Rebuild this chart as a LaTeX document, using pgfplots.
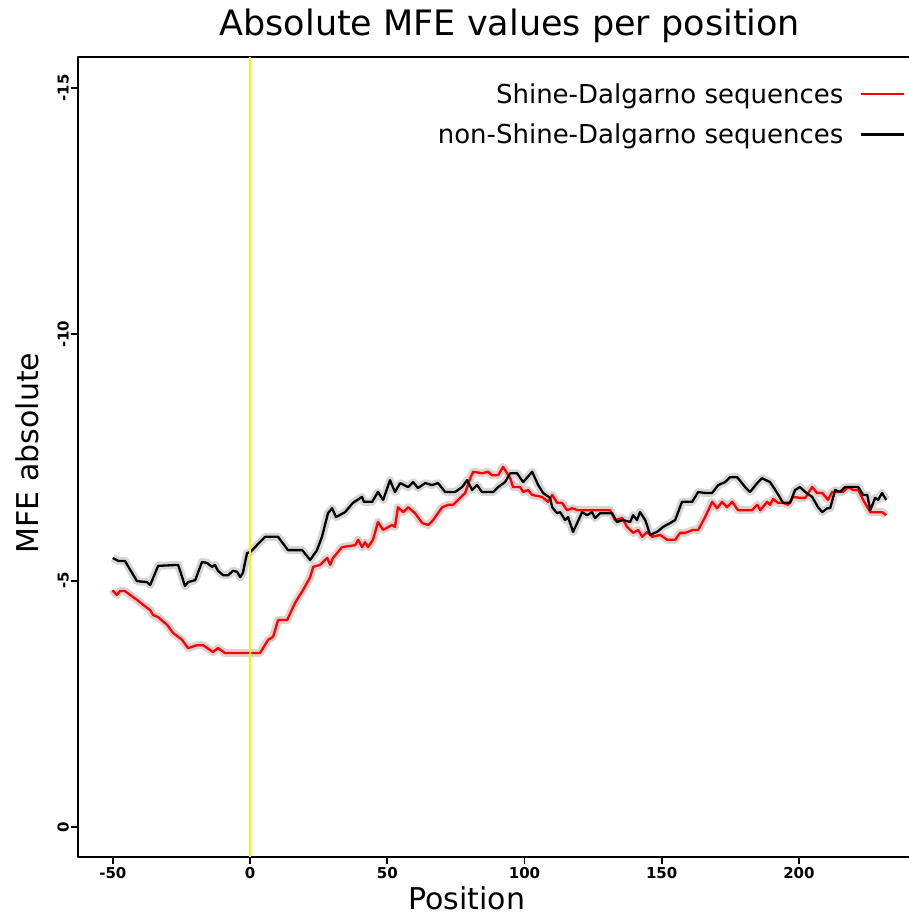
\documentclass[border=0pt]{standalone}
\usepackage{fontspec}
\setmainfont{DejaVu Sans}
\usepackage{pgfplots}
\pgfplotsset{compat=1.18}
\usepackage{pgfplotstable}

% mean MFE per position, Shine-Dalgarno sequences
\pgfplotstableread{
pos mfe
-50 -4.81
-49.9 -4.79
-48.5 -4.71
-47.4 -4.79
-45.6 -4.79
-43.7 -4.71
-41.2 -4.61
-39.0 -4.51
-36.4 -4.40
-35.3 -4.30
-33.5 -4.26
-30.2 -4.10
-28.1 -3.94
-24.8 -3.80
-22.6 -3.63
-19.3 -3.69
-17.1 -3.69
-13.5 -3.55
-11.7 -3.63
-9.1 -3.53
0 -3.53
3.6 -3.53
6.6 -3.80
8.4 -3.86
10.2 -4.20
13.5 -4.20
16.4 -4.55
19.3 -4.81
21.9 -5.07
23.0 -5.28
25.5 -5.32
28.1 -5.46
29.2 -5.32
30.2 -5.46
33.5 -5.68
38.3 -5.72
39.4 -5.83
40.8 -5.68
41.9 -5.78
43.0 -5.68
44.8 -5.83
46.6 -6.19
48.5 -6.03
51.7 -6.13
52.8 -6.09
53.9 -6.49
55.8 -6.39
57.6 -6.49
60.1 -6.37
62.7 -6.17
64.9 -6.13
66.7 -6.23
70.0 -6.49
72.2 -6.54
74.0 -6.54
75.8 -6.64
78.4 -6.78
80.2 -7.08
81.3 -7.21
84.5 -7.18
86.7 -7.21
88.2 -7.14
90.4 -7.14
92.2 -7.31
94.8 -7.08
95.8 -6.90
98.4 -6.90
99.5 -6.80
101.3 -6.84
102.8 -6.74
106.4 -6.70
108.6 -6.60
110.1 -6.74
111.9 -6.58
113.7 -6.58
115.5 -6.43
117.3 -6.47
119.5 -6.43
131.2 -6.43
133.0 -6.23
135.6 -6.27
137.4 -6.09
139.6 -5.97
141.4 -6.03
142.9 -5.89
144.7 -5.99
146.5 -5.89
149.4 -5.93
152.0 -5.83
154.9 -5.83
156.7 -5.97
158.5 -5.97
161.4 -6.03
163.3 -6.03
165.8 -6.29
168.4 -6.60
170.2 -6.47
172.0 -6.60
173.8 -6.49
175.7 -6.60
177.8 -6.43
182.9 -6.43
184.8 -6.54
185.9 -6.43
188.4 -6.60
189.5 -6.54
190.6 -6.66
192.4 -6.58
194.2 -6.58
196.1 -6.54
197.9 -6.70
200.4 -6.68
202.3 -6.68
204.8 -6.90
206.6 -6.78
208.5 -6.78
210.6 -6.64
212.1 -6.80
216.1 -6.80
217.9 -6.90
219.8 -6.84
221.6 -6.84
223.4 -6.64
226.0 -6.39
230.3 -6.39
231.8 -6.33
}\sdtable

% mean MFE per position, non-Shine-Dalgarno sequences
\pgfplotstableread{
pos mfe
-50 -5.46
-48 -5.40
-45.6 -5.40
-41.2 -4.99
-37.5 -4.97
-36.4 -4.91
-33.5 -5.30
-26.2 -5.32
-23.7 -4.89
-22.6 -4.97
-20.0 -5.01
-17.5 -5.38
-15.7 -5.36
-13.8 -5.28
-12.8 -5.32
-11.7 -5.20
-9.8 -5.11
-8.0 -5.11
-6.2 -5.20
-4.7 -5.18
-3.6 -5.07
-2.6 -5.16
-1.1 -5.56
0 -5.58
1.8 -5.68
5.5 -5.89
10.2 -5.89
13.8 -5.62
19.0 -5.62
21.9 -5.42
24.4 -5.62
26.2 -5.89
28.4 -6.37
29.9 -6.47
31.3 -6.29
34.6 -6.39
37.5 -6.58
40.8 -6.70
41.5 -6.60
44.5 -6.60
46.6 -6.80
48.5 -6.64
51.0 -7.04
52.8 -6.80
54.7 -6.98
57.6 -6.90
59.4 -7.00
61.2 -6.88
63.8 -6.98
66.3 -6.94
68.5 -6.98
71.1 -6.80
74.7 -6.80
77.3 -6.90
79.1 -7.04
80.9 -6.84
82.7 -6.94
84.5 -6.80
88.6 -6.80
90.4 -6.90
92.9 -7.00
94.8 -7.18
97.3 -7.18
99.5 -7.00
102.8 -7.21
105.0 -6.94
106.8 -6.78
109.3 -6.68
110.1 -6.49
111.9 -6.37
113.0 -6.39
114.8 -6.23
115.9 -6.29
117.7 -5.99
119.2 -6.17
121.0 -6.39
122.8 -6.33
124.6 -6.39
125.7 -6.27
127.6 -6.37
131.9 -6.37
133.7 -6.19
135.9 -6.23
138.5 -6.19
139.6 -6.33
141.0 -6.23
142.1 -6.39
144.0 -6.23
145.8 -5.93
148.3 -5.99
150.5 -6.09
153.1 -6.17
154.9 -6.23
157.4 -6.60
161.1 -6.60
163.3 -6.80
165.8 -6.78
168.4 -6.78
170.6 -6.94
173.1 -7.00
174.9 -7.10
177.5 -7.10
180.4 -6.90
182.2 -6.80
184.8 -6.98
186.6 -7.08
189.5 -7.00
192.1 -6.78
194.2 -6.58
196.8 -6.58
198.6 -6.84
200.4 -6.90
202.3 -6.80
204.8 -6.70
207.0 -6.49
208.5 -6.39
210.3 -6.47
211.4 -6.47
213.2 -6.84
215.0 -6.80
216.8 -6.90
221.6 -6.90
223.4 -6.74
224.9 -6.74
226.0 -6.43
227.8 -6.68
228.9 -6.64
230.3 -6.78
231.8 -6.64
}\nonsdtable

\definecolor{halo}{RGB}{214,214,214}
\definecolor{pinkhalo}{RGB}{245,200,200}

\begin{document}
\begin{tikzpicture}
\begin{axis}[
  name=ax,
  at={(0,0)}, anchor=south west,
  scale only axis,
  width=840pt, height=800pt,
  xmin=-62.7, xmax=243.4,
  ymin=-15.63, ymax=0.61,
  y dir=reverse,
  xtick={-50,0,50,100,150,200},
  ytick={-15,-10,-5,0},
  tick align=outside,
  xtick pos=bottom, ytick pos=left,
  major tick length=7pt,
  tick style={line width=1.8pt, black},
  axis line style={line width=2.4pt},
  /pgf/number format/assume math mode=true,
  ticklabel style={font=\bfseries\fontsize{15}{17}\selectfont},
  yticklabel style={rotate=90, anchor=south, inner sep=2pt},
  xticklabel style={inner sep=3pt},
  title={Absolute MFE values per position},
  title style={at={(axis description cs:0.514,1.01875)}, anchor=base,
    font=\fontsize{35}{40}\selectfont},
  xlabel={Position},
  xlabel style={at={(axis description cs:0.463,-0.0655)}, anchor=base,
    font=\fontsize{30}{36}\selectfont},
  ylabel={MFE absolute},
  ylabel style={at={(axis description cs:-0.0607,0.505)}, anchor=center,
    font=\fontsize{30}{36}\selectfont},
  legend style={at={(axis description cs:0.988,0.972)}, anchor=north east,
    draw=none, fill=none, font=\fontsize{26}{30}\selectfont,
    row sep=15pt},
  legend cell align=right,
  legend plot pos=right,
  legend image code/.code={\path (0pt,0pt); \draw[#1] (14pt,0pt) -- (57pt,0pt);},
  line join=round,
]
% shaded spread around each mean curve
\addplot[halo, line width=8pt, forget plot] table[x=pos, y=mfe] {\nonsdtable};
\addplot[halo, line width=8pt, forget plot] table[x=pos, y=mfe] {\sdtable};
\addplot[pinkhalo, line width=4.5pt, forget plot] table[x=pos, y=mfe] {\sdtable};
% mean curves
\addplot[red, line width=2.3pt] table[x=pos, y=mfe] {\sdtable};
\addlegendentry{Shine-Dalgarno sequences}
\addplot[black, line width=2.3pt] table[x=pos, y=mfe] {\nonsdtable};
\addlegendentry{non-Shine-Dalgarno sequences}
% start codon position
\addplot[yellow, line width=1.6pt, forget plot] coordinates {(0,-15.63) (0,0.61)};
\end{axis}
\pgfresetboundingbox
\useasboundingbox ([shift={(-78pt,-58pt)}]ax.south west) rectangle ([shift={(-10pt,57pt)}]ax.north east);
\end{tikzpicture}
\end{document}
